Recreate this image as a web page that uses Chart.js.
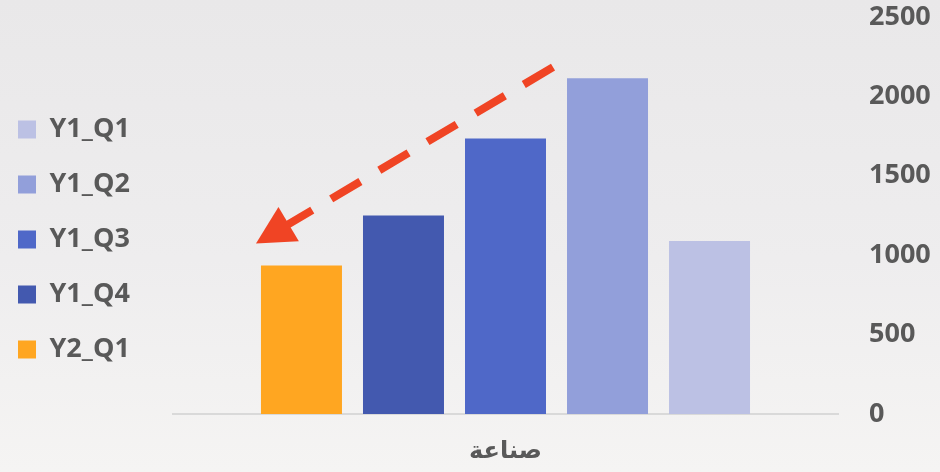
<!DOCTYPE html>
<html>
<head>
<meta charset="utf-8">
<script src="https://cdn.jsdelivr.net/npm/chart.js@4/dist/chart.umd.min.js"></script>
<style>
html,body{margin:0;padding:0;width:940px;height:472px;overflow:hidden;}
body{background:linear-gradient(to top, #f5f4f3 0%, #eeedee 45%, #e9e8e9 100%);}
#wrap{position:absolute;left:-10px;top:0;width:950px;height:472px;}
</style>
</head>
<body>
<div id="wrap"><canvas id="c" width="950" height="472"></canvas></div>
<script>
// ---- data ----
const categories = ['صناعة'];
const seriesNames = ['Y2_Q1', 'Y1_Q4', 'Y1_Q3', 'Y1_Q2', 'Y1_Q1'];
const Y2_Q1 = [935];
const Y1_Q4 = [1250];
const Y1_Q3 = [1735];
const Y1_Q2 = [2115];
const Y1_Q1 = [1090];
const yTicks = [0, 500, 1000, 1500, 2000, 2500];

// ---- styles ----
const seriesValues = [Y2_Q1, Y1_Q4, Y1_Q3, Y1_Q2, Y1_Q1];
const seriesColors = ['#FFA621', '#4359AF', '#4F68C8', '#929FDA', '#BCC1E4'];
const textColor = '#595959';
const latinFont = "'Open Sans', 'Liberation Sans', sans-serif";

const legendWidthPlugin = {
  id: 'legendWidth',
  beforeLayout(chart) {
    const lg = chart.legend;
    if (lg && !lg.__patched) {
      const orig = lg.fit;
      lg.fit = function () { orig.call(this); this.width = 183; };
      lg.__patched = true;
    }
  }
};

const arrowPlugin = {
  id: 'trendArrow',
  afterDatasetsDraw(chart) {
    const from = chart.getDatasetMeta(seriesNames.indexOf('Y1_Q2')).data[0];
    const to = chart.getDatasetMeta(seriesNames.indexOf('Y2_Q1')).data[0];
    if (!from || !to) return;
    const sx = from.x - from.width / 2 - 14, sy = from.y - 11;
    const tx = to.x - to.width / 2 - 5, ty = to.y - 22;
    const dx = tx - sx, dy = ty - sy;
    const len = Math.hypot(dx, dy);
    const ux = dx / len, uy = dy / len;
    const headLen = 38, headHalf = 20;
    const bx = tx - ux * headLen, by = ty - uy * headLen;
    const ctx = chart.ctx;
    ctx.save();
    ctx.strokeStyle = '#F04424';
    ctx.fillStyle = '#F04424';
    ctx.lineWidth = 8;
    ctx.lineCap = 'butt';
    ctx.setLineDash([34, 22]);
    ctx.beginPath();
    ctx.moveTo(sx, sy);
    ctx.lineTo(bx + ux * 4, by + uy * 4);
    ctx.stroke();
    ctx.setLineDash([]);
    ctx.beginPath();
    ctx.moveTo(tx, ty);
    ctx.lineTo(bx - uy * headHalf, by + ux * headHalf);
    ctx.lineTo(bx + uy * headHalf, by - ux * headHalf);
    ctx.closePath();
    ctx.fill();
    ctx.restore();
  }
};

new Chart(document.getElementById('c'), {
  type: 'bar',
  data: {
    labels: categories,
    datasets: seriesNames.map((name, i) => ({
      label: name,
      data: seriesValues[i],
      backgroundColor: seriesColors[i],
      borderWidth: 0,
      categoryPercentage: 0.767,
      barPercentage: 0.794
    }))
  },
  options: {
    responsive: false,
    animation: false,
    devicePixelRatio: 1,
    layout: { padding: { top: 17, bottom: 10, left: 0, right: 0 } },
    plugins: {
      legend: {
        position: 'left',
        reverse: true,
        labels: {
          boxWidth: 18,
          boxHeight: 18,
          padding: 28,
          color: textColor,
          font: { family: latinFont, size: 27, weight: 'bold' }
        }
      },
      tooltip: { enabled: false }
    },
    scales: {
      x: {
        grid: { display: false, drawTicks: false },
        border: { display: true, color: '#d9d9d9', width: 2 },
        ticks: {
          color: textColor,
          padding: 23,
          font: { family: "'DejaVu Sans', sans-serif", size: 24, weight: 'bold' }
        },
        afterFit: s => { s.height = 48; s.paddingLeft = 0; s.paddingRight = 0; }
      },
      y: {
        position: 'right',
        min: 0,
        max: 2500,
        afterBuildTicks: s => { s.ticks = yTicks.map(v => ({ value: v })); },
        grid: { display: false, drawTicks: false },
        border: { display: false },
        ticks: {
          color: textColor,
          padding: 31,
          callback: v => String(v),
          font: { family: latinFont, size: 27, weight: 'bold' }
        },
        afterFit: s => { s.width = 102; s.paddingTop = 0; s.paddingBottom = 0; }
      }
    }
  },
  plugins: [legendWidthPlugin, arrowPlugin]
});
</script>
</body>
</html>
